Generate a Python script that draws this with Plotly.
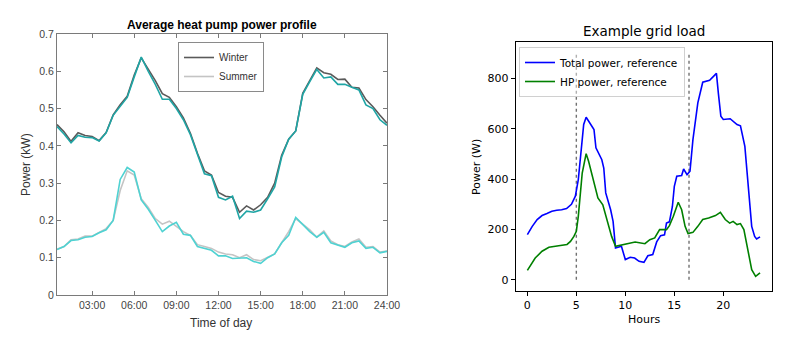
import plotly.graph_objects as go

# ---------------- Left chart data (Average heat pump power profile) ----------------
hours_left = [0.5, 1.0, 1.5, 2.0, 2.5, 3.0, 3.5, 4.0, 4.5, 5.0, 5.5, 6.0, 6.5, 7.0, 7.5, 8.0,
              8.5, 9.0, 9.5, 10.0, 10.5, 11.0, 11.5, 12.0, 12.5, 13.0, 13.5, 14.0, 14.5, 15.0,
              15.5, 16.0, 16.5, 17.0, 17.5, 18.0, 18.5, 19.0, 19.5, 20.0, 20.5, 21.0, 21.5,
              22.0, 22.5, 23.0, 23.5, 24.0]
winter_grey = [0.457, 0.438, 0.412, 0.435, 0.428, 0.425, 0.414, 0.436, 0.483, 0.510, 0.533, 0.590,
               0.636, 0.605, 0.575, 0.540, 0.530, 0.505, 0.475, 0.434, 0.380, 0.333, 0.322, 0.275,
               0.265, 0.262, 0.222, 0.239, 0.228, 0.242, 0.262, 0.300, 0.375, 0.418, 0.440, 0.541,
               0.575, 0.609, 0.596, 0.592, 0.578, 0.579, 0.557, 0.555, 0.524, 0.505, 0.482, 0.461]
winter_teal = [0.452, 0.432, 0.408, 0.428, 0.423, 0.422, 0.413, 0.435, 0.482, 0.505, 0.530, 0.585,
               0.638, 0.600, 0.565, 0.525, 0.525, 0.500, 0.470, 0.430, 0.375, 0.325, 0.320, 0.262,
               0.255, 0.265, 0.205, 0.225, 0.222, 0.228, 0.258, 0.290, 0.370, 0.418, 0.440, 0.538,
               0.572, 0.605, 0.582, 0.585, 0.565, 0.565, 0.557, 0.550, 0.510, 0.500, 0.470, 0.455]
summer_grey = [0.123, 0.130, 0.148, 0.150, 0.158, 0.158, 0.168, 0.178, 0.200, 0.280, 0.333, 0.322,
               0.258, 0.235, 0.205, 0.190, 0.198, 0.185, 0.170, 0.160, 0.135, 0.130, 0.125, 0.115,
               0.110, 0.108, 0.100, 0.108, 0.095, 0.092, 0.100, 0.110, 0.140, 0.170, 0.205, 0.190,
               0.175, 0.155, 0.172, 0.145, 0.135, 0.130, 0.142, 0.150, 0.128, 0.130, 0.115, 0.118]
summer_cyan = [0.122, 0.130, 0.146, 0.148, 0.155, 0.157, 0.167, 0.175, 0.200, 0.310, 0.342, 0.330,
               0.255, 0.230, 0.200, 0.170, 0.185, 0.195, 0.163, 0.160, 0.130, 0.125, 0.120, 0.105,
               0.105, 0.098, 0.098, 0.100, 0.090, 0.085, 0.100, 0.110, 0.140, 0.160, 0.208, 0.190,
               0.170, 0.155, 0.168, 0.140, 0.135, 0.128, 0.140, 0.145, 0.125, 0.128, 0.113, 0.117]
left_xticks = [3, 6, 9, 12, 15, 18, 21, 24]
left_xticklabels = ["03:00", "06:00", "09:00", "12:00", "15:00", "18:00", "21:00", "24:00"]
left_yticks = [0, 0.1, 0.2, 0.3, 0.4, 0.5, 0.6, 0.7]
left_yticklabels = ["0", "0.1", "0.2", "0.3", "0.4", "0.5", "0.6", "0.7"]

# ---------------- Right chart data (Example grid load) ----------------
total_hours = [0, 0.5, 1, 1.5, 2, 2.5, 3, 3.5, 4, 4.5, 4.9, 5.2, 5.6, 5.75, 6.0, 6.4, 6.8, 7.0,
               7.3, 7.6, 7.8, 8.0, 8.5, 8.75, 9.0, 9.6, 10.0, 10.5, 10.95, 11.4, 11.9, 12.3,
               12.8, 13.2, 13.6, 14.0, 14.2, 14.5, 14.8, 15.0, 15.25, 15.75, 15.95, 16.3, 16.6,
               16.9, 17.4, 17.9, 18.6, 19.0, 19.3, 19.5, 19.75, 20.0, 20.7, 21.4, 21.75, 22.2,
               22.9, 23.2, 23.4, 23.75]
total_power = [179, 212, 239, 255, 263, 272, 276, 278, 283, 300, 332, 398, 557, 617, 646, 623,
               597, 524, 497, 477, 444, 345, 278, 232, 126, 133, 80, 89, 86, 73, 69, 95, 100,
               150, 175, 178, 225, 230, 290, 371, 411, 414, 440, 418, 431, 557, 703, 785, 793,
               809, 820, 740, 650, 637, 640, 617, 612, 530, 212, 172, 162, 170]
hp_hours = [0, 0.8, 1.5, 2.2, 3.2, 4.05, 4.4, 4.75, 5.0, 5.2, 5.6, 6.0, 6.25, 6.8, 7.2, 7.7, 8.1,
            8.6, 9.0, 9.65, 10.3, 11.0, 12.0, 12.5, 13.0, 13.5, 14.2, 14.5, 14.9, 15.4, 15.75,
            16.1, 16.4, 16.9, 17.4, 17.9, 18.5, 19.2, 19.7, 20.2, 20.65, 21.0, 21.4, 21.75,
            22.1, 22.6, 22.9, 23.3, 23.75]
hp_power = [37, 86, 113, 129, 135, 140, 152, 172, 192, 252, 424, 501, 471, 385, 325, 298, 239,
            172, 133, 139, 146, 150, 143, 159, 166, 199, 199, 215, 252, 308, 278, 212, 183, 188,
            212, 239, 245, 255, 268, 239, 225, 232, 219, 223, 199, 93, 40, 13, 27]
vline_hours = [5, 16.5]
vline_bottom = 0
vline_top = 900
right_xticks = [0, 5, 10, 15, 20]
right_yticks = [0, 200, 400, 600, 800]

W, H = 800, 338
def px(x):
    return x / W
def py(y):
    return 1 - y / H

fig = go.Figure()

# Left traces
fig.add_trace(go.Scatter(x=hours_left, y=winter_grey, mode="lines", name="Winter",
                         line=dict(color="#5a5a5a", width=1.6), xaxis="x", yaxis="y"))
fig.add_trace(go.Scatter(x=hours_left, y=summer_grey, mode="lines", name="Summer",
                         line=dict(color="#c4c4c4", width=1.6), xaxis="x", yaxis="y"))
fig.add_trace(go.Scatter(x=hours_left, y=winter_teal, mode="lines", showlegend=False,
                         line=dict(color="#1fa5a5", width=1.6), xaxis="x", yaxis="y"))
fig.add_trace(go.Scatter(x=hours_left, y=summer_cyan, mode="lines", showlegend=False,
                         line=dict(color="#4fd2d2", width=1.6), xaxis="x", yaxis="y"))

# Right traces
for vh in vline_hours:
    fig.add_trace(go.Scatter(x=[vh, vh], y=[vline_bottom, vline_top], mode="lines",
                             showlegend=False, line=dict(color="#707070", width=1.4, dash="dot"),
                             xaxis="x2", yaxis="y2"))
fig.add_trace(go.Scatter(x=total_hours, y=total_power, mode="lines", name="Total power, reference",
                         line=dict(color="#0000ff", width=1.6), xaxis="x2", yaxis="y2",
                         legend="legend2"))
fig.add_trace(go.Scatter(x=hp_hours, y=hp_power, mode="lines", name="HP power, reference",
                         line=dict(color="#008000", width=1.6), xaxis="x2", yaxis="y2",
                         legend="legend2"))

left_font = "Liberation Sans, Arial, sans-serif"
right_font = "DejaVu Sans, sans-serif"

fig.update_layout(
    template="none",
    width=W, height=H, margin=dict(l=0, r=0, t=0, b=0, autoexpand=False),
    paper_bgcolor="white", plot_bgcolor="white",
    showlegend=True,
    xaxis=dict(domain=[px(57), px(387)], range=[0.5, 24], tickvals=left_xticks,
               ticktext=left_xticklabels, ticks="inside", ticklen=4, tickcolor="#7a7a7a",
               showline=True, linecolor="#7a7a7a", linewidth=1, mirror="ticks",
               showgrid=False, zeroline=False, automargin=False, anchor="y",
               tickfont=dict(family=left_font, size=10.5, color="#444444")),
    yaxis=dict(domain=[py(295), py(34)], range=[0, 0.7], tickvals=left_yticks,
               ticktext=left_yticklabels, ticks="inside", ticklen=4, tickcolor="#7a7a7a",
               showline=True, linecolor="#7a7a7a", linewidth=1, mirror="ticks",
               showgrid=False, zeroline=False, automargin=False, anchor="x",
               tickfont=dict(family=left_font, size=10.5, color="#444444")),
    xaxis2=dict(domain=[px(515.7), px(771.7)], range=[-1.19, 24.94], tickvals=right_xticks,
                ticks="outside", ticklen=4, tickcolor="black", showline=True, linecolor="black",
                linewidth=1, mirror=True, showgrid=False, zeroline=False, anchor="y2",
                automargin=False,
                tickfont=dict(family=right_font, size=11, color="black")),
    yaxis2=dict(domain=[py(291), py(42)], range=[-45, 945], tickvals=right_yticks,
                ticks="outside", ticklen=4, tickcolor="black", showline=True, linecolor="black",
                linewidth=1, mirror=True, showgrid=False, zeroline=False, anchor="x2",
                automargin=False,
                tickfont=dict(family=right_font, size=11, color="black")),
    legend=dict(x=px(178), y=py(42), xanchor="left", yanchor="top", bgcolor="white",
                bordercolor="#8a8a8a", borderwidth=1, itemwidth=30, tracegroupgap=0,
                font=dict(family=left_font, size=10, color="#333333")),
    legend2=dict(x=px(519), y=py(47), xanchor="left", yanchor="top",
                 bgcolor="rgba(255,255,255,0.45)",
                 bordercolor="#d0d0d0", borderwidth=1, itemwidth=30, tracegroupgap=0,
                 font=dict(family=right_font, size=10.5, color="black")),
    annotations=[
        dict(text="<b>Average heat pump power profile</b>", x=px(222), y=py(25), xref="paper",
             yref="paper", showarrow=False, xanchor="center", yanchor="middle",
             font=dict(family=left_font, size=12, color="black")),
        dict(text="Time of day", x=px(221), y=py(323), xref="paper", yref="paper",
             showarrow=False, xanchor="center", yanchor="middle",
             font=dict(family=left_font, size=12, color="#333333")),
        dict(text="Power (kW)", x=px(26), y=py(165), xref="paper", yref="paper",
             showarrow=False, xanchor="center", yanchor="middle", textangle=-90,
             font=dict(family=left_font, size=12, color="#333333")),
        dict(text="Example grid load", x=px(643.7), y=py(31), xref="paper", yref="paper",
             showarrow=False, xanchor="center", yanchor="middle",
             font=dict(family=right_font, size=13.5, color="black")),
        dict(text="Hours", x=px(643.7), y=py(319), xref="paper", yref="paper",
             showarrow=False, xanchor="center", yanchor="middle",
             font=dict(family=right_font, size=11, color="black")),
        dict(text="Power (W)", x=px(476), y=py(167), xref="paper", yref="paper",
             showarrow=False, xanchor="center", yanchor="middle", textangle=-90,
             font=dict(family=right_font, size=11, color="black")),
    ],
)

fig.write_html("out.html")
